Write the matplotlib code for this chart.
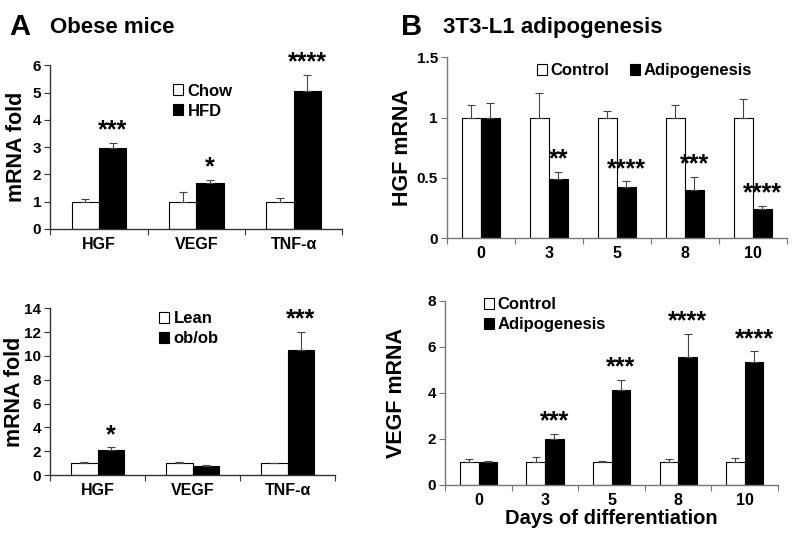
import matplotlib.pyplot as plt
import numpy as np
from matplotlib.patches import Patch

plt.rcParams['font.family'] = ['Liberation Sans', 'DejaVu Sans']
plt.rcParams['font.weight'] = 'bold'

# Panel A data
genes = ["HGF", "VEGF", "TNF-\u03b1"]
chow = [1.0, 1.0, 1.0]
chow_err = [0.1, 0.35, 0.15]
hfd = [2.97, 1.7, 5.05]
hfd_err = [0.18, 0.1, 0.6]
hfd_stars = ["***", "*", "****"]

lean = [1.0, 1.0, 1.0]
lean_err = [0.1, 0.1, 0.05]
obob = [2.1, 0.8, 10.5]
obob_err = [0.25, 0.08, 1.5]
obob_stars = ["*", "", "***"]

# Panel B data
days = ["0", "3", "5", "8", "10"]
hgf_ctrl = [1.0, 1.0, 1.0, 1.0, 1.0]
hgf_ctrl_err = [0.1, 0.2, 0.05, 0.1, 0.15]
hgf_adipo = [1.0, 0.49, 0.42, 0.40, 0.245]
hgf_adipo_err = [0.12, 0.06, 0.05, 0.11, 0.025]
hgf_stars = ["", "**", "****", "***", "****"]

vegf_ctrl = [1.0, 1.0, 1.0, 1.0, 1.0]
vegf_ctrl_err = [0.1, 0.2, 0.05, 0.1, 0.15]
vegf_adipo = [1.0, 2.0, 4.12, 5.55, 5.32]
vegf_adipo_err = [0.05, 0.2, 0.43, 1.0, 0.48]
vegf_stars = ["", "***", "***", "****", "****"]

TICK_FS = 11
LABEL_FS = 15.5
LEG_FS = 12


def bar_panel(ax, labels, a, a_err, b, b_err, stars, ymax, yticks, ticklabels,
              axis_color, star_pad):
    n = len(labels)
    x = np.arange(n)
    w = 0.28
    ax.bar(x - w / 2, a, w, color='white', edgecolor='black', linewidth=0.8,
           yerr=[np.zeros(n), a_err], error_kw=dict(ecolor='#444444', elinewidth=0.8, capsize=3, capthick=0.8))
    ax.bar(x + w / 2, b, w, color='black', edgecolor='black', linewidth=0.8,
           yerr=[np.zeros(n), b_err], error_kw=dict(ecolor='#444444', elinewidth=0.8, capsize=3, capthick=0.8))
    for i in range(n):
        if stars[i]:
            ax.text(x[i] + w / 2, b[i] + b_err[i] + star_pad, stars[i], ha='center', va='bottom',
                    fontsize=18, fontweight='bold')
    ax.set_xlim(-0.5, n - 0.5)
    ax.set_ylim(0, ymax)
    ax.set_yticks(yticks)
    ax.set_yticklabels(ticklabels, fontsize=TICK_FS, fontweight='bold')
    ax.set_xticks(np.arange(n + 1) - 0.5, minor=False)
    ax.set_xticklabels([])
    ax.set_xticks(x, minor=True)
    ax.set_xticklabels(labels, minor=True, fontsize=TICK_FS + 0.5, fontweight='bold')
    ax.tick_params(axis='x', which='minor', length=0, pad=6)
    ax.tick_params(axis='x', which='major', length=4, color=axis_color, direction='out')
    ax.tick_params(axis='y', length=4, color=axis_color, direction='out', pad=2.5)
    for s in ['top', 'right']:
        ax.spines[s].set_visible(False)
    for s in ['left', 'bottom']:
        ax.spines[s].set_color(axis_color)
        ax.spines[s].set_linewidth(1.0)


def legend_handles(names):
    return [Patch(facecolor='white', edgecolor='black', linewidth=0.8, label=names[0]),
            Patch(facecolor='black', edgecolor='black', linewidth=0.8, label=names[1])]


fig = plt.figure(figsize=(7.98, 5.35), dpi=100)

ax1 = fig.add_axes([0.063, 0.572, 0.366, 0.306])
bar_panel(ax1, genes, chow, chow_err, hfd, hfd_err, hfd_stars, 6, range(0, 7),
          [str(v) for v in range(0, 7)], '#333333', 0.02)
ax1.set_ylabel("mRNA fold", fontsize=LABEL_FS, fontweight='bold')
ax1.yaxis.set_label_coords(-0.08, 0.5)
ax1.legend(handles=legend_handles(["Chow", "HFD"]), loc='upper left', bbox_to_anchor=(0.37, 0.98),
           frameon=False, prop={'size': LEG_FS, 'weight': 'bold'}, handlelength=0.6, handleheight=0.6,
           handletextpad=0.25, labelspacing=0.3)

ax2 = fig.add_axes([0.063, 0.112, 0.357, 0.312])
bar_panel(ax2, genes, lean, lean_err, obob, obob_err, obob_stars, 14, range(0, 15, 2),
          [str(v) for v in range(0, 15, 2)], '#333333', 0.02)
ax2.set_ylabel("mRNA fold", fontsize=LABEL_FS, fontweight='bold')
ax2.yaxis.set_label_coords(-0.09, 0.5)
ax2.legend(handles=legend_handles(["Lean", "ob/ob"]), loc='upper left', bbox_to_anchor=(0.33, 1.07),
           frameon=False, prop={'size': LEG_FS, 'weight': 'bold'}, handlelength=0.6, handleheight=0.6,
           handletextpad=0.25, labelspacing=0.3)

ax3 = fig.add_axes([0.560, 0.555, 0.426, 0.338])
bar_panel(ax3, days, hgf_ctrl, hgf_ctrl_err, hgf_adipo, hgf_adipo_err, hgf_stars, 1.5,
          [0, 0.5, 1, 1.5], ["0", "0.5", "1", "1.5"], '#777777', 0.0)
ax3.set_ylabel("HGF mRNA", fontsize=LABEL_FS, fontweight='bold')
ax3.yaxis.set_label_coords(-0.10, 0.5)
ax3.legend(handles=legend_handles(["Control", "Adipogenesis"]), loc='upper left', bbox_to_anchor=(0.22, 1.05),
           ncol=2, frameon=False, prop={'size': LEG_FS, 'weight': 'bold'}, handlelength=0.6, handleheight=0.6,
           handletextpad=0.25, columnspacing=1.2)

ax4 = fig.add_axes([0.558, 0.094, 0.417, 0.344])
bar_panel(ax4, days, vegf_ctrl, vegf_ctrl_err, vegf_adipo, vegf_adipo_err, vegf_stars, 8,
          range(0, 9, 2), [str(v) for v in range(0, 9, 2)], '#777777', 0.02)
ax4.set_ylabel("VEGF mRNA", fontsize=LABEL_FS, fontweight='bold')
ax4.yaxis.set_label_coords(-0.114, 0.5)
ax4.set_xlabel("Days of differentiation", fontsize=14.5, fontweight='bold', labelpad=1)
ax4.legend(handles=legend_handles(["Control", "Adipogenesis"]), loc='upper left', bbox_to_anchor=(0.07, 1.1),
           frameon=False, prop={'size': LEG_FS, 'weight': 'bold'}, handlelength=0.6, handleheight=0.6,
           handletextpad=0.25, labelspacing=0.3)

fig.text(0.012, 0.975, "A", fontsize=21, fontweight='bold', va='top')
fig.text(0.063, 0.968, "Obese mice", fontsize=16, fontweight='bold', va='top')
fig.text(0.503, 0.975, "B", fontsize=21, fontweight='bold', va='top')
fig.text(0.555, 0.968, "3T3-L1 adipogenesis", fontsize=16, fontweight='bold', va='top')

fig.savefig("out.png", dpi=100)
